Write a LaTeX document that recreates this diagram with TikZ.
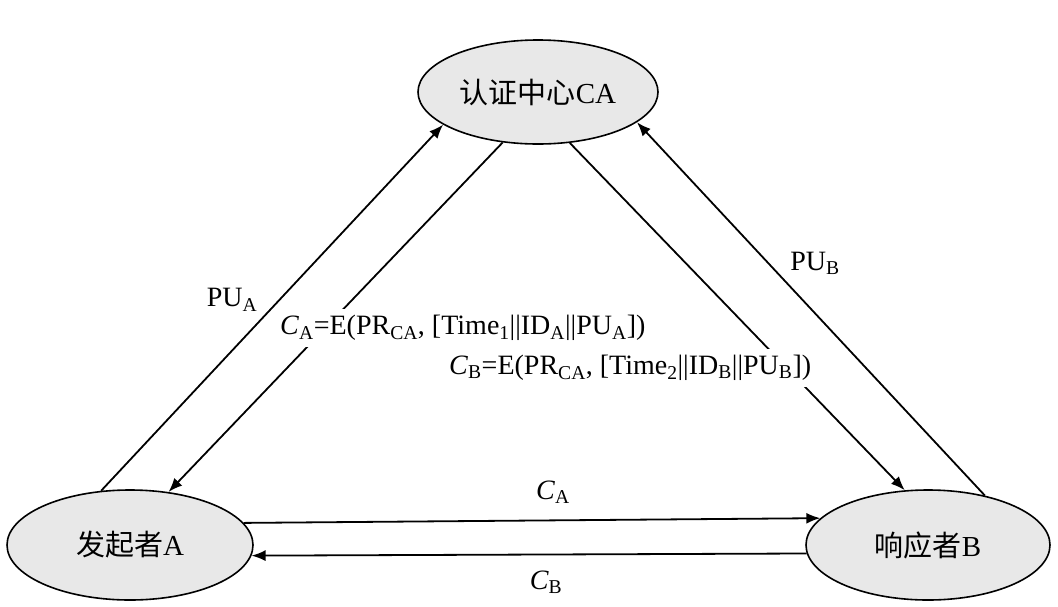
\documentclass[tikz,border=0pt]{standalone}
\usepackage{fontspec}
\setmainfont{Liberation Serif}
\newfontfamily\cjk{Noto Sans CJK SC}
\usetikzlibrary{shapes.geometric,arrows.meta}
\begin{document}
\begin{tikzpicture}[x=1pt,y=-1pt,
  party/.style={draw, line width=1.6pt, ellipse, fill=gray!18, inner sep=0pt},
  conn/.style={line width=1.8pt, -{Latex[length=14pt,width=11pt]}},
  lbl/.style={font=\fontsize{28}{30}\selectfont, inner sep=0pt},
  formula/.style={lbl, fill=white, inner xsep=2pt, inner ysep=6pt}]
\useasboundingbox (0,0) rectangle (1058,606);
\node[party, minimum width=240pt, minimum height=104pt] (ca) at (538,92)
  {\fontsize{29}{32}\selectfont\cjk 认证中心\rmfamily CA};
\node[party, minimum width=246pt, minimum height=110pt] (a) at (130,545)
  {\fontsize{29}{32}\selectfont\cjk 发起者\rmfamily A};
\node[party, minimum width=244pt, minimum height=110pt] (b) at (928,545)
  {\fontsize{29}{32}\selectfont\cjk 响应者\rmfamily B};

\draw[conn] (a.118.6) -- (ca.199);
\draw[conn] (ca.235) -- (a.54.4);
\draw[conn] (ca.302.6) -- (b.113.5);
\draw[conn] (b.41.3) -- (ca.343);
\draw[conn] (a.11.3) -- (b.166.5);
\draw[conn] (b.184.2) -- (a.-5.7);

\node[lbl] (pua) at (232,300) {PU\textsubscript{A}};
\node[lbl] (pub) at (815,263) {PU\textsubscript{B}};
\node[formula, anchor=west] (fa) at (278,328) {\textit{C}\textsubscript{A}=E(PR\textsubscript{CA}, [Time\textsubscript{1}\textbar\textbar ID\textsubscript{A}\textbar\textbar PU\textsubscript{A}])};
\node[formula, anchor=west] (fb) at (447,368) {\textit{C}\textsubscript{B}=E(PR\textsubscript{CA}, [Time\textsubscript{2}\textbar\textbar ID\textsubscript{B}\textbar\textbar PU\textsubscript{B}])};
\node[lbl] (lca) at (553,492) {\textit{C}\textsubscript{A}};
\node[lbl] (lcb) at (546,582) {\textit{C}\textsubscript{B}};
\end{tikzpicture}
\end{document}
